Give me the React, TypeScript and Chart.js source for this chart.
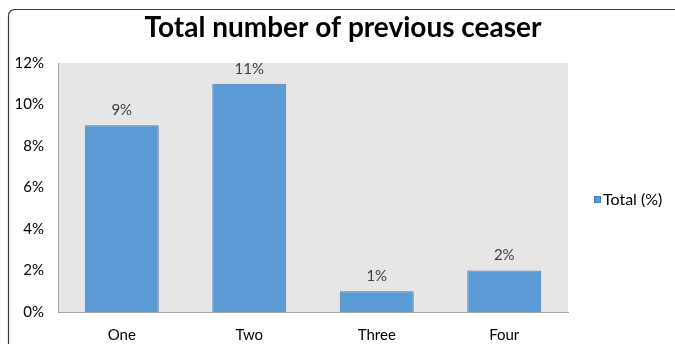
import React, { useEffect, useRef } from "react";
import { Chart, registerables } from "chart.js";

Chart.register(...registerables);

const categories = ["One", "Two", "Three", "Four"];
const totalPercent = [9, 11, 1, 2];
const yTicks = [0, 2, 4, 6, 8, 10, 12];
const seriesName = "Total (%)";
const titleText = "Total number of previous ceaser";

const FONT = "Lato, 'Open Sans', sans-serif";

const decorPlugin = {
  id: "decor",
  beforeDraw(chart: any) {
    const { ctx, chartArea } = chart;
    ctx.save();
    ctx.fillStyle = "#ffffff";
    ctx.fillRect(0, 0, chart.width, chart.height);
    // outer border (rounded top-left, extends beyond right/bottom)
    ctx.strokeStyle = "#3a3a3a";
    ctx.lineWidth = 1.2;
    const r = 6;
    ctx.beginPath();
    ctx.moveTo(8.5, chart.height + 5);
    ctx.lineTo(8.5, 9.5 + r);
    ctx.arcTo(8.5, 9.5, 8.5 + r, 9.5, r);
    ctx.lineTo(chart.width + 5, 9.5);
    ctx.stroke();
    // plot background
    ctx.fillStyle = "#e6e6e6";
    ctx.fillRect(chartArea.left, chartArea.top, chartArea.right - chartArea.left, chartArea.bottom - chartArea.top);
    ctx.restore();
  },
  afterDraw(chart: any) {
    const { ctx } = chart;
    ctx.save();
    // title
    ctx.fillStyle = "#000000";
    ctx.font = `bold 28px ${FONT}`;
    ctx.textAlign = "center";
    ctx.textBaseline = "middle";
    ctx.fillText(titleText, 343, 28);
    // data labels
    const meta = chart.getDatasetMeta(0);
    ctx.font = `15px ${FONT}`;
    ctx.fillStyle = "#404040";
    ctx.textBaseline = "middle";
    meta.data.forEach((bar: any, i: number) => {
      ctx.fillText(totalPercent[i] + "%", bar.x, bar.y - 15);
    });
    // legend
    ctx.fillStyle = "#5b9bd5";
    ctx.fillRect(594, 196, 7, 7);
    ctx.strokeStyle = "#4a7ebb";
    ctx.lineWidth = 1;
    ctx.strokeRect(594.5, 196.5, 6, 6);
    ctx.fillStyle = "#000000";
    ctx.textAlign = "left";
    ctx.font = `16px ${FONT}`;
    ctx.fillText(seriesName, 603, 200);
    ctx.restore();
  },
};

export default function App() {
  const ref = useRef<HTMLCanvasElement | null>(null);
  useEffect(() => {
    document.body.style.margin = "0";
    const canvas = ref.current;
    if (!canvas) return;
    const chart = new Chart(canvas, {
      type: "bar",
      data: {
        labels: categories,
        datasets: [
          {
            label: seriesName,
            data: totalPercent,
            backgroundColor: "#5b9bd5",
            borderColor: "#4a7ebb",
            borderWidth: 1,
            barPercentage: 0.58,
            categoryPercentage: 1,
          },
        ],
      },
      options: {
        animation: false,
        responsive: false,
        maintainAspectRatio: false,
        devicePixelRatio: 1,
        layout: { padding: { top: 63, right: 107, bottom: 0, left: 0 } },
        plugins: {
          legend: { display: false },
          title: { display: false },
          tooltip: { enabled: false },
        },
        scales: {
          x: {
            grid: { display: false, drawTicks: false },
            border: { display: true, color: "#a6a6a6" },
            ticks: { color: "#000000", font: { family: FONT, size: 15 }, padding: 14 },
            afterFit: (scale: any) => {
              scale.height = 32;
            },
          },
          y: {
            min: 0,
            max: 12,
            afterBuildTicks: (scale: any) => {
              scale.ticks = yTicks.map((v) => ({ value: v }));
            },
            grid: { display: false, drawTicks: false },
            border: { display: true, color: "#a6a6a6" },
            ticks: {
              color: "#000000",
              font: { family: FONT, size: 15 },
              padding: 14,
              callback: (v: any) => v + "%",
            },
            afterFit: (scale: any) => {
              scale.width = 58;
            },
          },
        },
      },
      plugins: [decorPlugin],
    });
    return () => chart.destroy();
  }, []);
  return (
    <div style={{ position: "absolute", left: 0, top: 0, width: 675, height: 344 }}>
      <canvas ref={ref} width={675} height={344} style={{ width: 675, height: 344, display: "block" }} />
    </div>
  );
}
